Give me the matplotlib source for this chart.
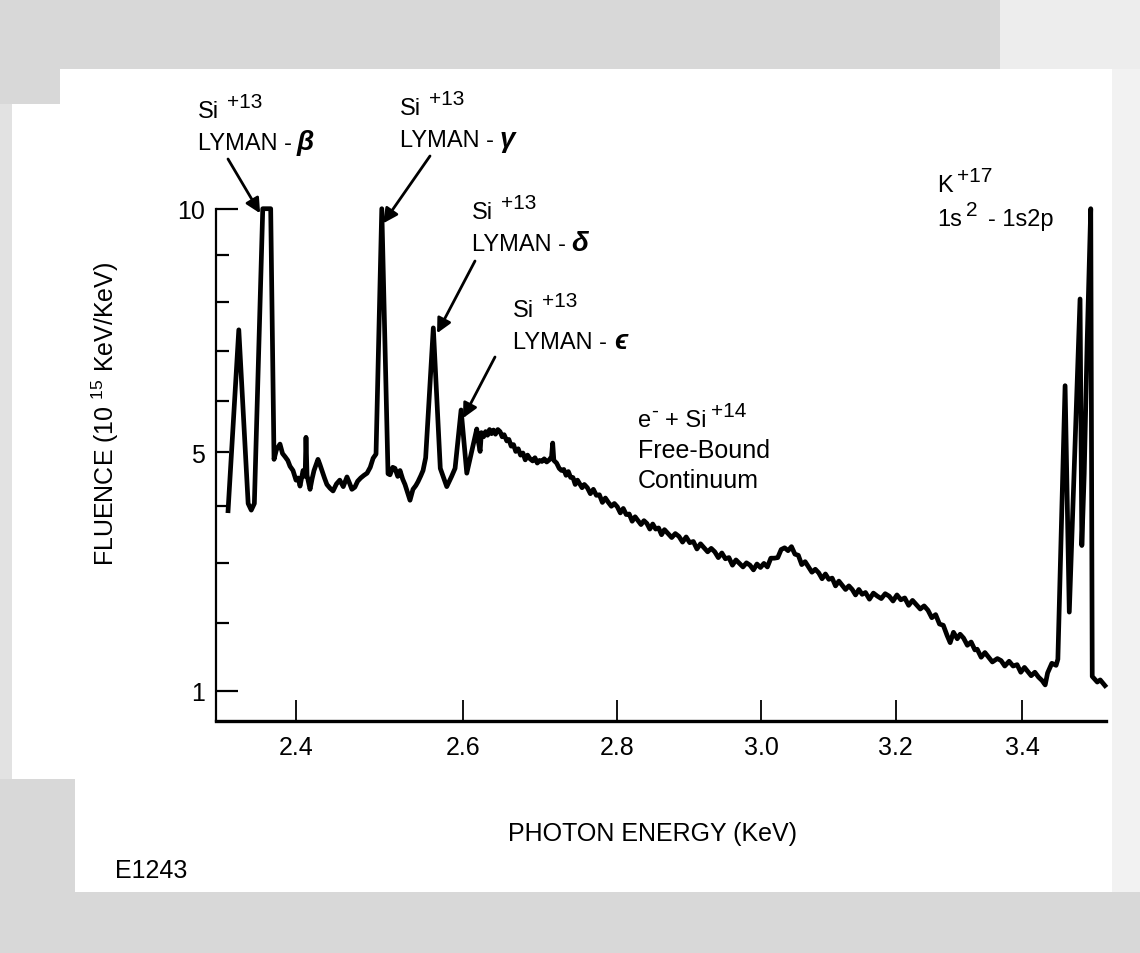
import numpy as np
import matplotlib
matplotlib.use("Agg")
from matplotlib import pyplot as plt
from matplotlib.patches import Rectangle

plt.rcParams['font.family'] = ['Liberation Sans', 'DejaVu Sans']
plt.rcParams['mathtext.fontset'] = 'custom'
plt.rcParams['mathtext.rm'] = 'Liberation Sans'
plt.rcParams['mathtext.it'] = 'Liberation Sans:italic'
plt.rcParams['mathtext.bf'] = 'Liberation Sans:bold'

# spectrum (photon energy in KeV, fluence in 1e15 KeV/KeV)
energy = [
    2.323, 2.335, 2.3455, 2.349, 2.3525, 2.362, 2.371, 2.3748, 2.3775, 2.3816,
    2.3845, 2.3874, 2.3905, 2.3931, 2.3965, 2.400, 2.4025, 2.4046, 2.4081, 2.4105,
    2.4115, 2.4127, 2.4162, 2.4185, 2.4208, 2.4254, 2.4275, 2.4300, 2.4330, 2.4358,
    2.4395, 2.4430, 2.4470, 2.4509, 2.4550, 2.4594, 2.4625, 2.4652, 2.4687, 2.4720,
    2.4756, 2.4795, 2.4832, 2.4870, 2.4904, 2.4939, 2.5008, 2.5083, 2.5107, 2.5140,
    2.5167, 2.5200, 2.5228, 2.5260, 2.5288, 2.5320, 2.5349, 2.5385, 2.5420, 2.5446,
    2.5480, 2.5508, 2.5540, 2.5634, 2.5720, 2.5800, 2.5860, 2.5903, 2.5978, 2.6049,
    2.6174, 2.6195, 2.6216, 2.6232, 2.6260, 2.6285, 2.6310, 2.6335, 2.6360, 2.6385,
    2.6410, 2.6440, 2.6468, 2.6495, 2.6520, 2.6554, 2.6580, 2.6610, 2.6640, 2.6668,
    2.6700, 2.6730, 2.6760, 2.6790, 2.6820, 2.6852, 2.6885, 2.6915, 2.6945, 2.6975,
    2.7005, 2.7035, 2.7067, 2.7100, 2.7130, 2.7145, 2.7160, 2.7196, 2.7230, 2.7260,
    2.7290, 2.7320, 2.7350, 2.7380, 2.7410, 2.7440, 2.7470, 2.7500, 2.7530, 2.7560,
    2.7600, 2.7640, 2.7680, 2.7720, 2.7760, 2.7800, 2.7840, 2.7880, 2.7920, 2.7960,
    2.8000, 2.8040, 2.8080, 2.8120, 2.8160, 2.8200, 2.8240, 2.8280, 2.8320, 2.8360,
    2.8400, 2.8440, 2.8480, 2.8520, 2.8560, 2.8600, 2.8640, 2.8690, 2.8740, 2.8790,
    2.8840, 2.8890, 2.8940, 2.8990, 2.9040, 2.9090, 2.9140, 2.9190, 2.9240, 2.9290,
    2.9340, 2.9390, 2.9440, 2.9490, 2.9540, 2.9590, 2.9640, 2.9690, 2.9740, 2.9790,
    2.9840, 2.9890, 2.9940, 2.9990, 3.0040, 3.0090, 3.0140, 3.0190, 3.0240, 3.0290,
    3.0340, 3.0390, 3.0440, 3.0490, 3.0540, 3.0590, 3.0640, 3.0690, 3.0740, 3.0790,
    3.0840, 3.0890, 3.0940, 3.0990, 3.1040, 3.1090, 3.1140, 3.1190, 3.1240, 3.1290,
    3.1340, 3.1390, 3.1440, 3.1490, 3.1540, 3.1600, 3.1660, 3.1720, 3.1780, 3.1840,
    3.1900, 3.1960, 3.2020, 3.2080, 3.2140, 3.2200, 3.2260, 3.2320, 3.2380, 3.2440,
    3.2500, 3.2560, 3.2620, 3.2680, 3.2740, 3.2800, 3.2848, 3.2900, 3.2960, 3.3005,
    3.3060, 3.3120, 3.3180, 3.3240, 3.3277, 3.3340, 3.3400, 3.3460, 3.3520, 3.3600,
    3.3660, 3.3720, 3.3790, 3.3855, 3.3920, 3.3980, 3.4040, 3.4085, 3.4150, 3.4210,
    3.4270, 3.4330, 3.4380, 3.4420, 3.4490, 3.4560, 3.4590, 3.4710, 3.4780, 3.4960,
    3.4990, 3.5030, 3.5080, 3.5140, 3.5165, 3.5250, 3.5300, 3.5380,
]
fluence = [
    3.92, 7.43, 4.05, 3.93, 4.05, 10.0, 10.0, 4.87, 5.05, 5.16,
    4.98, 4.92, 4.85, 4.74, 4.66, 4.48, 4.52, 4.37, 4.66, 4.55,
    5.29, 4.57, 4.31, 4.50, 4.66, 4.87, 4.78, 4.66, 4.52, 4.40,
    4.33, 4.28, 4.41, 4.48, 4.36, 4.54, 4.42, 4.31, 4.35, 4.46,
    4.52, 4.57, 4.61, 4.72, 4.89, 4.97, 10.0, 4.60, 4.58, 4.72,
    4.70, 4.55, 4.66, 4.50, 4.40, 4.25, 4.11, 4.31, 4.38, 4.45,
    4.56, 4.66, 4.90, 7.47, 4.70, 4.36, 4.55, 4.70, 5.82, 4.61,
    5.45, 5.20, 5.02, 5.38, 5.30, 5.40, 5.33, 5.44, 5.36, 5.43,
    5.35, 5.44, 5.40, 5.30, 5.34, 5.22, 5.25, 5.12, 5.15, 5.02,
    5.07, 4.95, 4.99, 4.86, 4.95, 4.88, 4.84, 4.90, 4.80, 4.85,
    4.83, 4.88, 4.82, 4.86, 4.92, 5.18, 4.85, 4.80, 4.70, 4.66,
    4.68, 4.57, 4.64, 4.53, 4.53, 4.40, 4.48, 4.41, 4.34, 4.40,
    4.34, 4.23, 4.31, 4.20, 4.21, 4.07, 4.15, 4.07, 4.00, 4.05,
    3.99, 3.88, 3.96, 3.85, 3.86, 3.73, 3.81, 3.74, 3.67, 3.74,
    3.69, 3.59, 3.68, 3.59, 3.61, 3.49, 3.58, 3.51, 3.44, 3.51,
    3.46, 3.36, 3.45, 3.35, 3.37, 3.24, 3.33, 3.26, 3.19, 3.25,
    3.19, 3.09, 3.17, 3.07, 3.09, 2.96, 3.05, 2.99, 2.93, 3.00,
    2.96, 2.88, 2.98, 2.92, 2.99, 2.93, 3.08, 3.08, 3.09, 3.23,
    3.26, 3.21, 3.28, 3.15, 3.13, 2.97, 3.02, 2.93, 2.84, 2.89,
    2.83, 2.73, 2.81, 2.72, 2.74, 2.61, 2.69, 2.62, 2.55, 2.61,
    2.55, 2.46, 2.55, 2.47, 2.50, 2.39, 2.49, 2.44, 2.40, 2.48,
    2.44, 2.36, 2.46, 2.38, 2.41, 2.29, 2.37, 2.30, 2.23, 2.28,
    2.21, 2.09, 2.14, 1.99, 1.97, 1.81, 1.70, 1.86, 1.76, 1.83,
    1.77, 1.66, 1.71, 1.59, 1.60, 1.48, 1.55, 1.48, 1.41, 1.46,
    1.43, 1.35, 1.42, 1.35, 1.37, 1.26, 1.33, 1.28, 1.21, 1.26,
    1.19, 1.14, 1.08, 1.25, 1.39, 1.36, 1.45, 6.30, 2.18, 8.07,
    3.30, 4.60, 7.20, 10.0, 1.20, 1.12, 1.15, 1.07,
]

x_ticks = [2.4, 2.6, 2.8, 3.0, 3.2, 3.4]
x_ticklabels = ['2.4', '2.6', '2.8', '3.0', '3.2', '3.4']
y_major = [1, 10]
y_minor = [2, 3, 4, 5, 6, 7, 8, 9]

W, H = 1140, 954


def fp(x, y):
    # pixel position (from top-left) -> figure fraction
    return x / W, 1 - y / H


fig = plt.figure(figsize=(W / 100, H / 100), dpi=100)
fig.patch.set_facecolor('white')

# grey halftone border of the scan
dark, light = '#d8d8d8', '#ededed'
for (x0, y0, w, h, c) in [(0, 0, 1000, 70, dark), (1000, 0, 140, 70, light),
                          (0, 893, 1140, 61, dark), (0, 70, 12, 823, '#e2e2e2'),
                          (0, 70, 60, 35, dark), (0, 780, 75, 113, dark),
                          (1112, 70, 28, 823, '#f2f2f2')]:
    fx, fy = fp(x0, y0 + h)
    fig.patches.append(Rectangle((fx, fy), w / W, h / H, transform=fig.transFigure,
                                 facecolor=c, edgecolor='none', zorder=0))

ax = fig.add_axes([216 / W, 1 - 722 / H, (1106 - 216) / W, (722 - 209.7) / H])
ax.set_facecolor('none')

ax.set_xscale('log')
ax.set_yscale('function', functions=(lambda v: np.power(np.clip(v, 0, None), 0.8),
                                     lambda t: np.power(np.clip(t, 0, None), 1.25)))
ax.set_xlim(2.3096, 3.5398)
ax.set_ylim(0.6014, 10)

ax.plot(energy, fluence, color='black', lw=3.4, solid_joinstyle='round', clip_on=False)

for s in ['top', 'right']:
    ax.spines[s].set_visible(False)
ax.spines['bottom'].set_linewidth(2.4)
ax.spines['left'].set_linewidth(1.6)

ax.set_xticks(x_ticks)
ax.set_xticklabels(x_ticklabels)
ax.xaxis.set_minor_locator(matplotlib.ticker.NullLocator())
ax.tick_params(axis='x', which='major', direction='in', length=15, width=1.3,
               labelsize=18, pad=10)

ax.set_yticks(y_major)
ax.set_yticklabels(['1', '10'])
ax.set_yticks(y_minor, minor=True)
ax.set_yticklabels(['', '', '', '5', '', '', '', ''], minor=True)
ax.tick_params(axis='y', which='major', direction='in', length=16, width=1.6,
               labelsize=18, pad=8)
ax.tick_params(axis='y', which='minor', direction='in', length=9, width=1.6,
               labelsize=18, pad=8)

fs, sfs = 17, 15


def txt(x, y, s, size=fs, **kw):
    fig.text(*fp(x, y), s, fontsize=size, ha='left', va='baseline', **kw)


def greek(x, y, s):
    txt(x, y, s, size=20, fontweight='bold', fontstyle='italic')


# Si +13 Lyman line labels: (x, baseline of first row, greek letter, greek offset)
labels = [
    (198, 118, '\u03b2', 99),
    (400, 115, '\u03b3', 100),
    (472, 219, '\u03b4', 99),
    (513, 317, '\u03f5', 101),
]
for x, y, g, dx in labels:
    txt(x, y, 'Si')
    txt(x + 29, y - 10, '+13', size=sfs)
    txt(x, y + 32, 'LYMAN -')
    greek(x + dx, y + 32, g)

txt(638, 427, 'e')
txt(651, 417, '-', size=sfs)
txt(665, 427, '+ Si')
txt(711, 417, '+14', size=sfs)
txt(638, 458, 'Free-Bound', size=18)
txt(638, 488, 'Continuum', size=18)

txt(937, 192, 'K')
txt(957, 182, '+17', size=sfs)
txt(937, 226, '1s')
txt(966, 216, '2', size=sfs)
txt(988, 226, '- 1s2p')

# arrows: head at the peak (data), tail under the label (figure)
arrows = [
    ((2.359, 9.9), (228, 160)),
    ((2.5023, 9.68), (430, 157)),
    ((2.568, 7.36), (475, 262)),
    ((2.6002, 5.66), (495, 358)),
]
for head, tail in arrows:
    ax.annotate('', xy=head, xycoords='data', xytext=fp(*tail),
                textcoords='figure fraction',
                arrowprops=dict(arrowstyle='-|>', color='black', lw=2,
                                mutation_scale=22, shrinkA=0, shrinkB=0))

fig.text(*fp(105, 414), 'FLUENCE (10 $^{15}$ KeV/KeV)', fontsize=18, rotation=90,
         ha='center', va='center')
fig.text(*fp(652, 834), 'PHOTON ENERGY (KeV)', fontsize=18, ha='center', va='center')
fig.text(*fp(115, 871), 'E1243', fontsize=18, ha='left', va='center')

plt.savefig('out.png', dpi=100)
